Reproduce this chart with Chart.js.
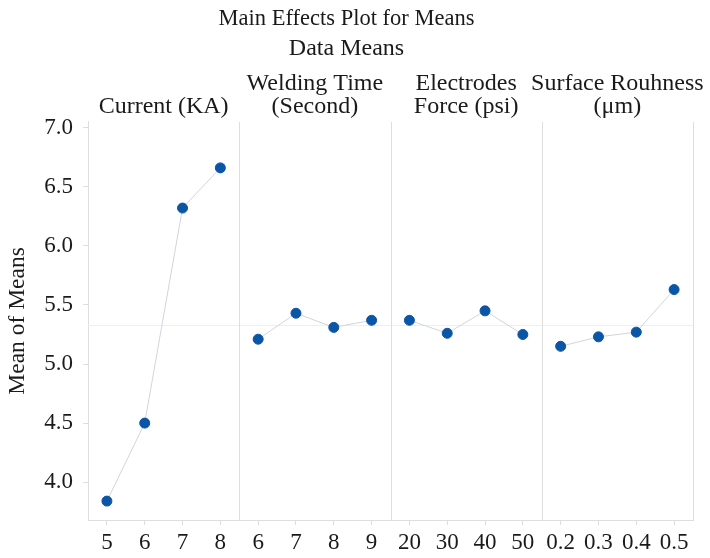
<!DOCTYPE html>
<html>
<head>
<meta charset="utf-8">
<script src="https://cdn.jsdelivr.net/npm/chart.js@4.4.1/dist/chart.umd.min.js"></script>
<style>
  html, body { margin: 0; padding: 0; background: #fff; }
  #wrap { width: 710px; height: 558px; }
</style>
</head>
<body>
<div id="wrap"><canvas id="mainEffects"></canvas></div>
<script>
// 各因子の水準と平均値
const currentLevels = ['5', '6', '7', '8'];
const currentMeans = [3.84, 4.50, 6.32, 6.66];
const timeLevels = ['6', '7', '8', '9'];
const timeMeans = [5.21, 5.43, 5.31, 5.37];
const forceLevels = ['20', '30', '40', '50'];
const forceMeans = [5.37, 5.26, 5.45, 5.25];
const roughLevels = ['0.2', '0.3', '0.4', '0.5'];
const roughMeans = [5.15, 5.23, 5.27, 5.63];

// 縦軸の目盛りと全体平均
const yTicks = [4.0, 4.5, 5.0, 5.5, 6.0, 6.5, 7.0];
const grandMean = 5.33;

// パネル見出し
const panelTitles = [
    ['Current (KA)'],
    ['Welding Time', '(Second)'],
    ['Electrodes', 'Force (psi)'],
    ['Surface Rouhness', '(μm)']
];

const FONT = '"Liberation Serif", "DejaVu Serif", serif';
const TEXT = '#1a1a1a';
const FRAME = '#dedede';

const factors = [
    { levels: currentLevels, means: currentMeans },
    { levels: timeLevels, means: timeMeans },
    { levels: forceLevels, means: forceMeans },
    { levels: roughLevels, means: roughMeans }
];

// 横軸ラベル（全パネル分を連結、位置は通し番号）
const labels = factors.flatMap(f => f.levels);

// パネルごとのデータセット
let start = 0;
const panelStarts = [];
const datasets = factors.map(f => {
    const offset = start;
    panelStarts.push(offset);
    start += f.levels.length;
    return {
        data: f.means.map((m, i) => ({ x: offset + i, y: m })),
        borderColor: '#cfd6dd',
        borderWidth: 1,
        pointBackgroundColor: '#0a55a6',
        pointBorderColor: '#0a55a6',
        pointRadius: 5,
        pointHoverRadius: 5,
        tension: 0
    };
});

/**
 * パネル区切り線・平均線・見出しを描くプラグイン
 */
const panelPlugin = {
    id: 'panels',
    beforeDatasetsDraw(chart) {
        const { ctx, chartArea, scales } = chart;
        const x = scales.x;
        const y = scales.y;
        ctx.save();
        ctx.lineWidth = 1;

        // 全体平均の参照線
        const my = Math.round(y.getPixelForValue(grandMean)) + 0.5;
        ctx.strokeStyle = '#efefef';
        ctx.beginPath();
        ctx.moveTo(chartArea.left, my);
        ctx.lineTo(chartArea.right, my);
        ctx.stroke();

        // 区切り線と右枠
        ctx.strokeStyle = FRAME;
        factors.forEach((f, k) => {
            const edge = panelStarts[k] + f.levels.length - 0.5;
            const sx = Math.round(x.getPixelForValue(edge)) + 0.5;
            ctx.beginPath();
            ctx.moveTo(sx, chartArea.top);
            ctx.lineTo(sx, chartArea.bottom);
            ctx.stroke();
        });
        ctx.restore();
    },
    afterDraw(chart) {
        const { ctx, chartArea, scales } = chart;
        const x = scales.x;
        ctx.save();
        ctx.font = '24px ' + FONT;
        ctx.fillStyle = TEXT;
        ctx.textAlign = 'center';
        ctx.textBaseline = 'alphabetic';
        factors.forEach((f, k) => {
            const mid = panelStarts[k] + (f.levels.length - 1) / 2;
            const cx = x.getPixelForValue(mid);
            const lines = panelTitles[k];
            lines.forEach((line, j) => {
                const fromBottom = lines.length - 1 - j;
                ctx.fillText(line, cx, chartArea.top - 9 - fromBottom * 23);
            });
        });
        ctx.restore();
    }
};

function createMainEffectsChart() {
    const ctx = document.getElementById('mainEffects').getContext('2d');
    new Chart(ctx, {
        type: 'line',
        data: { datasets: datasets },
        plugins: [panelPlugin],
        options: {
            responsive: true,
            maintainAspectRatio: false,
            animation: false,
            layout: { padding: { left: 0, right: 17, top: 0, bottom: 0 } },
            plugins: {
                legend: { display: false },
                tooltip: { enabled: false },
                title: {
                    display: true,
                    text: 'Main Effects Plot for Means',
                    color: TEXT,
                    font: { family: FONT, size: 22.5, weight: 'normal' },
                    padding: { top: 6, bottom: 0 }
                },
                subtitle: {
                    display: true,
                    text: 'Data Means',
                    color: TEXT,
                    font: { family: FONT, size: 24, weight: 'normal' },
                    padding: { top: 1, bottom: 59 }
                }
            },
            scales: {
                x: {
                    type: 'linear',
                    min: -0.5,
                    max: labels.length - 0.5,
                    afterBuildTicks(scale) {
                        scale.ticks = labels.map((_, i) => ({ value: i }));
                    },
                    grid: {
                        drawOnChartArea: false,
                        drawTicks: true,
                        tickLength: 5,
                        color: FRAME
                    },
                    border: { color: FRAME },
                    ticks: {
                        color: TEXT,
                        font: { family: FONT, size: 23 },
                        padding: 4,
                        autoSkip: false,
                        maxRotation: 0,
                        callback: v => labels[v]
                    },
                    afterFit(scale) { scale.height = 38; }
                },
                y: {
                    min: 3.68,
                    max: 7.05,
                    afterBuildTicks(scale) {
                        scale.ticks = yTicks.map(v => ({ value: v }));
                    },
                    grid: {
                        drawOnChartArea: false,
                        drawTicks: true,
                        tickLength: 5,
                        color: FRAME
                    },
                    border: { color: FRAME },
                    ticks: {
                        color: TEXT,
                        font: { family: FONT, size: 23 },
                        padding: 10,
                        callback: v => Number(v).toFixed(1)
                    },
                    title: {
                        display: true,
                        text: 'Mean of Means',
                        color: TEXT,
                        font: { family: FONT, size: 23.5 },
                        padding: { top: 4, bottom: 0 }
                    },
                    afterFit(scale) { scale.width = 88; }
                }
            }
        }
    });
}

// メイン処理
createMainEffectsChart();
</script>
</body>
</html>
